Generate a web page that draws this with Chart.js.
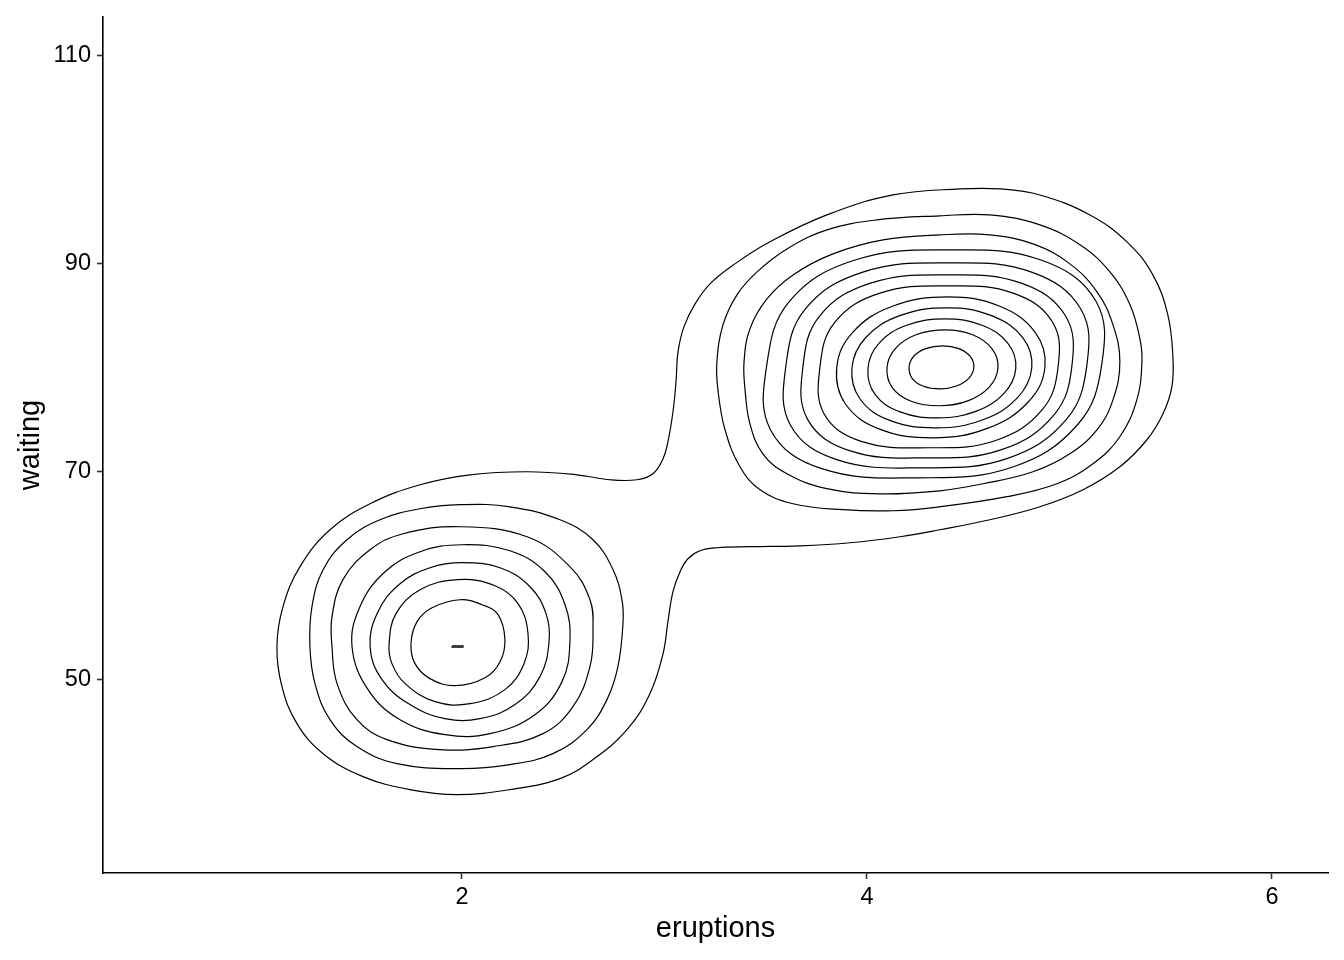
<!DOCTYPE html>
<html lang="en">
<head>
<meta charset="UTF-8">
<title>faithful 2d density</title>
<script src="https://cdn.jsdelivr.net/npm/chart.js"></script>
<style>
  body { margin: 0; background: #fff; }
  #wrap { width: 1344px; height: 960px; }
</style>
</head>
<body>
<div id="wrap"><canvas id="chartCanvas" width="1344" height="960"></canvas></div>
<script>
// tick positions
const xTicks = [2, 4, 6];
const yTicks = [50, 70, 90, 110];

// contour lines as [eruptions, waiting]
// outermost line that wraps both clusters
const outerContour = [[1.086,53.17],[1.116,57.02],[1.200,60.87],[1.348,64.42],[1.546,66.92],[1.793,68.75],[2.040,69.71],[2.321,70.00],[2.568,69.71],[2.731,69.23],[2.864,69.23],[2.943,69.81],[2.993,71.25],[3.017,72.88],[3.042,75.77],[3.057,78.65],[3.067,81.54],[3.096,83.94],[3.151,86.15],[3.225,88.08],[3.348,90.00],[3.521,92.12],[3.802,94.71],[4.128,96.63],[4.459,97.21],[4.657,97.21],[4.854,96.63],[5.101,94.71],[5.284,92.12],[5.412,88.94],[5.486,85.10],[5.511,81.06],[5.506,78.17],[5.462,75.58],[5.383,73.08],[5.249,70.48],[5.067,68.27],[4.854,66.63],[4.607,65.38],[4.360,64.42],[4.163,63.75],[3.916,63.17],[3.669,62.88],[3.422,62.79],[3.259,62.69],[3.175,62.40],[3.116,61.63],[3.077,60.38],[3.042,58.46],[3.017,55.58],[2.993,52.50],[2.928,48.65],[2.815,45.19],[2.647,42.31],[2.484,40.48],[2.237,39.42],[1.975,38.94],[1.743,39.42],[1.511,40.67],[1.314,42.88],[1.185,45.77],[1.111,49.33]];

// short-eruption cluster, outer to inner
const lowRing1 = [[1.249,53.17],[1.259,57.02],[1.314,60.58],[1.432,63.46],[1.595,65.38],[1.793,66.44],[1.990,66.83],[2.237,66.63],[2.484,65.38],[2.647,63.46],[2.746,60.58],[2.790,57.69],[2.795,55.38],[2.770,51.25],[2.716,48.08],[2.617,45.19],[2.449,42.88],[2.237,41.83],[1.990,41.44],[1.679,41.92],[1.481,43.56],[1.348,46.15],[1.274,49.62]];
const lowRing2 = [[1.358,53.17],[1.358,56.06],[1.412,59.62],[1.546,62.50],[1.709,64.04],[1.990,64.71],[2.321,63.75],[2.533,60.87],[2.632,57.69],[2.647,54.81],[2.632,51.25],[2.548,47.40],[2.400,44.81],[2.153,43.56],[1.891,43.27],[1.630,44.23],[1.481,46.15],[1.383,49.62]];
const lowRing3 = [[1.457,53.17],[1.496,57.02],[1.620,60.38],[1.793,62.31],[2.000,62.98],[2.237,62.40],[2.410,60.38],[2.509,57.21],[2.533,53.65],[2.494,49.81],[2.360,46.63],[2.138,44.81],[1.916,44.71],[1.694,46.15],[1.536,49.04]];
const lowRing4 = [[1.546,53.17],[1.585,56.54],[1.694,59.23],[1.842,60.77],[2.000,61.25],[2.188,60.77],[2.336,58.94],[2.415,56.35],[2.430,53.65],[2.385,50.29],[2.262,47.60],[2.089,46.25],[1.916,46.25],[1.743,47.60],[1.605,50.00]];
const lowRing5 = [[1.640,53.46],[1.674,56.35],[1.793,58.65],[1.980,59.62],[2.163,59.04],[2.277,57.31],[2.326,54.42],[2.306,51.54],[2.212,49.04],[2.040,47.69],[1.867,47.88],[1.719,49.62],[1.654,51.54]];
const lowRing6 = [[1.748,53.46],[1.778,55.58],[1.852,56.92],[1.990,57.69],[2.099,57.21],[2.178,56.25],[2.212,53.85],[2.188,51.73],[2.114,50.19],[1.965,49.42],[1.842,50.10],[1.768,51.54]];
const lowPeak = [[1.951,53.25],[2.005,53.25],[2.005,53.12],[1.951,53.12]];

// long-eruption cluster, outer to inner
const upRing1 = [[3.259,80.58],[3.289,84.13],[3.358,87.02],[3.457,89.23],[3.605,91.44],[3.802,93.27],[4.049,94.23],[4.360,94.62],[4.607,94.71],[4.854,93.75],[5.052,91.83],[5.200,89.23],[5.299,86.06],[5.348,82.79],[5.358,80.58],[5.333,76.92],[5.249,73.37],[5.116,70.77],[4.938,68.85],[4.691,67.60],[4.360,66.63],[4.128,66.25],[3.881,66.35],[3.635,66.92],[3.472,68.27],[3.373,70.48],[3.299,74.04],[3.264,77.88]];
const upRing2 = [[3.393,80.58],[3.422,83.75],[3.506,86.63],[3.635,88.94],[3.832,90.96],[4.079,92.31],[4.360,92.79],[4.607,92.79],[4.820,91.92],[5.002,90.00],[5.136,87.31],[5.215,84.13],[5.249,80.58],[5.215,76.92],[5.136,74.04],[5.002,71.73],[4.820,70.00],[4.573,68.85],[4.360,68.17],[4.064,67.88],[3.802,68.37],[3.605,69.81],[3.486,71.73],[3.422,74.62],[3.398,77.88]];
const upRing3 = [[3.506,80.38],[3.618,86.41],[3.937,90.35],[4.416,91.34],[4.863,90.35],[5.131,86.41],[5.160,80.38],[5.042,74.57],[4.713,70.41],[4.250,69.42],[3.777,70.30],[3.524,74.02]];
const upRing4 = [[3.600,80.24],[3.696,85.66],[3.980,89.21],[4.410,90.10],[4.813,89.21],[5.056,85.66],[5.086,80.24],[4.984,75.01],[4.691,71.27],[4.276,70.38],[3.850,71.17],[3.621,74.52]];
const upRing5 = [[3.684,80.14],[3.766,84.98],[4.018,88.15],[4.401,88.94],[4.762,88.15],[4.981,84.98],[5.012,80.14],[4.924,75.48],[4.665,72.13],[4.295,71.34],[3.914,72.04],[3.707,75.04]];
const upRing6 = [[3.768,80.10],[3.841,84.38],[4.064,87.19],[4.403,87.89],[4.722,87.19],[4.917,84.38],[4.944,80.10],[4.866,75.97],[4.636,73.01],[4.309,72.31],[3.971,72.93],[3.788,75.58]];
const upRing7 = [[3.851,80.05],[3.931,83.44],[4.129,85.95],[4.401,86.83],[4.653,85.95],[4.830,83.44],[4.879,80.05],[4.794,76.66],[4.591,74.15],[4.329,73.27],[4.066,74.08],[3.894,76.52]];
const upRing8 = [[3.926,80.00],[3.993,82.89],[4.162,85.02],[4.397,85.77],[4.615,85.02],[4.770,82.89],[4.814,80.00],[4.743,77.11],[4.569,74.98],[4.343,74.23],[4.116,74.92],[3.966,77.00]];
const upRing9 = [[4.005,79.95],[4.058,82.33],[4.196,84.09],[4.388,84.71],[4.568,84.09],[4.697,82.33],[4.735,79.95],[4.678,77.57],[4.537,75.81],[4.352,75.19],[4.164,75.76],[4.039,77.47]];
const upRing10 = [[4.099,80.00],[4.139,81.83],[4.242,83.18],[4.387,83.65],[4.522,83.18],[4.618,81.83],[4.647,80.00],[4.605,78.17],[4.498,76.82],[4.359,76.35],[4.218,76.79],[4.125,78.10]];
const upRing11 = [[4.208,80.05],[4.230,81.09],[4.290,81.85],[4.374,82.12],[4.454,81.85],[4.510,81.09],[4.528,80.05],[4.504,79.01],[4.442,78.25],[4.362,77.98],[4.279,78.23],[4.224,78.97]];

const contours = [outerContour, lowRing1, lowRing2, lowRing3, lowRing4, lowRing5, lowRing6, lowPeak,
                  upRing1, upRing2, upRing3, upRing4, upRing5, upRing6, upRing7, upRing8, upRing9, upRing10, upRing11];

Chart.defaults.font.family = '"Liberation Sans", Arial, Helvetica, sans-serif';
Chart.defaults.color = '#000';

// wrap the ring so every drawn piece has neighbours on both sides (smooth join),
// the two padding segments are drawn transparent
function loopData(pts) {
    const n = pts.length;
    const ring = [pts[n - 1]].concat(pts, [pts[0], pts[1]]);
    return ring.map(p => ({ x: p[0], y: p[1] }));
}

const datasets = contours.map(c => {
    const data = loopData(c);
    const last = data.length - 1;
    return {
        data: data,
        showLine: true,
        borderColor: '#000',
        borderWidth: 1.2,
        pointRadius: 0,
        tension: c === lowPeak ? 0 : 0.4,
        fill: false,
        segment: {
            borderColor: ctx => (ctx.p0DataIndex === 0 || ctx.p1DataIndex === last) ? 'rgba(0,0,0,0)' : '#000'
        }
    };
});

new Chart(document.getElementById('chartCanvas'), {
    type: 'scatter',
    data: { datasets: datasets },
    options: {
        responsive: false,
        devicePixelRatio: 1,
        animation: false,
        layout: { padding: { left: 0, top: 17, right: 16, bottom: 0 } },
        plugins: { legend: { display: false }, tooltip: { enabled: false } },
        scales: {
            x: {
                type: 'linear',
                min: 0.227,
                max: 6.277,
                afterBuildTicks: axis => { axis.ticks = xTicks.map(v => ({ value: v })); },
                afterFit: axis => { axis.height = 87; axis.paddingLeft = 0; axis.paddingRight = 0; },
                ticks: { font: { size: 23.5 }, color: '#000', padding: 4, maxRotation: 0 },
                grid: { drawOnChartArea: false, tickLength: 6, tickColor: '#333', tickWidth: 1.6 },
                border: { color: '#000', width: 1.6 },
                title: { display: true, text: 'eruptions', font: { size: 29 }, color: '#000', padding: { top: 0, bottom: 14 } }
            },
            y: {
                type: 'linear',
                min: 31.4,
                max: 113.75,
                afterBuildTicks: axis => { axis.ticks = yTicks.map(v => ({ value: v })); },
                afterFit: axis => { axis.width = 103; axis.paddingTop = 0; axis.paddingBottom = 0; },
                ticks: { font: { size: 23.5 }, color: '#000', padding: 6 },
                grid: { drawOnChartArea: false, tickLength: 6, tickColor: '#333', tickWidth: 1.6 },
                border: { color: '#000', width: 1.6 },
                title: { display: true, text: 'waiting', font: { size: 29 }, color: '#000', padding: { top: 14, bottom: 0 } }
            }
        }
    }
});
</script>
</body>
</html>
